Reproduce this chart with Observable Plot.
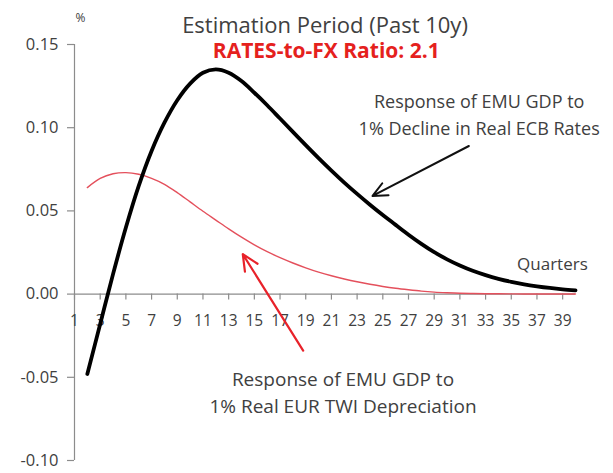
<!DOCTYPE html>
<html><head><meta charset="utf-8">
<script src="https://cdn.jsdelivr.net/npm/d3@7"></script>
<script src="https://cdn.jsdelivr.net/npm/@observablehq/plot@0.6"></script>
<style>body{margin:0;background:#fff;}</style>
</head><body><div id="chart"></div>
<script>
// Quarters after the shock
const quarters = d3.range(2, 41);
// Response of EMU GDP to 1% decline in real ECB rates (%)
const ratesResponse = [-0.048,-0.018,0.012,0.040,0.065,0.086,0.103,0.1165,0.1265,0.133,0.135,0.133,0.128,0.121,0.1135,0.1055,0.0975,0.0895,0.0817,0.0742,0.067,0.0602,0.0537,0.0475,0.0416,0.0357,0.0302,0.0252,0.0209,0.0172,0.0140,0.0114,0.0092,0.0074,0.0059,0.0047,0.0037,0.0029,0.0023];
// Response of EMU GDP to 1% real EUR TWI depreciation (%)
const fxResponse = [0.064,0.0695,0.0723,0.0730,0.0720,0.0696,0.0660,0.0610,0.0554,0.0498,0.0445,0.0392,0.0342,0.0296,0.0255,0.0219,0.0187,0.0158,0.0132,0.0110,0.0091,0.0074,0.0059,0.0046,0.0035,0.0026,0.0018,0.0012,0.0008,0.0005,0.00035,0.00025,0.0002,0.00015,0.0001,0.0001,0.0001,0.0001,0.0001];
const xTicks = d3.range(1, 40, 2);
const yTicks = [-0.10, -0.05, 0, 0.05, 0.10, 0.15];

const ratesRows = quarters.map((q, i) => ({q, v: ratesResponse[i]}));
const fxRows = quarters.map((q, i) => ({q, v: fxResponse[i]}));

const txt = "#404040", axisCol = "#8c8c8c";
const chart = Plot.plot({
  width: 613, height: 473,
  marginLeft: 74, marginRight: 38, marginTop: 44, marginBottom: 13,
  style: {fontFamily: "'Open Sans', sans-serif", color: txt, background: "#fff"},
  x: {domain: [1, 40], axis: null},
  y: {domain: [-0.10, 0.15], axis: null},
  marks: [
    // axes
    Plot.ruleX([1], {stroke: axisCol, strokeWidth: 1.2}),
    Plot.ruleY(yTicks, {x1: 1, x2: 1, insetLeft: -7, stroke: axisCol, strokeWidth: 1.2}),
    Plot.text(yTicks, {x: 1, y: d => d, text: d => d.toFixed(2), dx: -16, textAnchor: "end", fontSize: 16.5, fill: txt}),
    Plot.ruleY([0], {stroke: axisCol, strokeWidth: 1.2}),
    Plot.ruleX(xTicks, {x: d => d, y1: 0, y2: 0, insetBottom: -6, stroke: axisCol, strokeWidth: 1.2}),
    Plot.text(xTicks, {x: d => d, y: 0, text: d => String(d), dy: 27, fontSize: 15.5, fill: txt}),
    // series
    Plot.line(fxRows, {x: "q", y: "v", stroke: "#e4505c", strokeWidth: 1.4, curve: "catmull-rom"}),
    Plot.line(ratesRows, {x: "q", y: "v", stroke: "#000", strokeWidth: 3.8, curve: "catmull-rom"}),
    // titles
    Plot.text(["%"], {x: 1, y: 0.15, text: d => d, dx: 6, dy: -26, fontSize: 12, fill: txt}),
    Plot.text(["Estimation Period (Past 10y)"], {x: 20.5, y: 0.15, text: d => d, dy: -19, fontSize: 22, fill: txt}),
    Plot.text(["RATES-to-FX Ratio: 2.1"], {x: 20.6, y: 0.15, text: d => d, dy: 7, fontSize: 21, fontWeight: "bold", fill: "#e5211d"}),
    // annotations
    Plot.text(["Response of EMU GDP to\n1% Decline in Real ECB Rates"], {x: 32.5, y: 0.109, text: d => d, fontSize: 18, lineHeight: 1.5, fill: txt}),
    Plot.arrow([0], {x1: 31.7, y1: 0.089, x2: 24.2, y2: 0.059, stroke: "#111", strokeWidth: 2, headLength: 12, headAngle: 50}),
    Plot.text(["Quarters"], {x: 38.2, y: 0.018, text: d => d, fontSize: 17, fill: txt}),
    Plot.text(["Response of EMU GDP to\n1% Real EUR TWI Depreciation"], {x: 21.9, y: -0.058, text: d => d, fontSize: 19, lineHeight: 1.45, fill: txt}),
    Plot.arrow([0], {x1: 18.8, y1: -0.034, x2: 14.1, y2: 0.024, stroke: "#e8222a", strokeWidth: 2.2, headLength: 12, headAngle: 50})
  ]
});
document.getElementById("chart").appendChild(chart);
</script>
</body></html>
